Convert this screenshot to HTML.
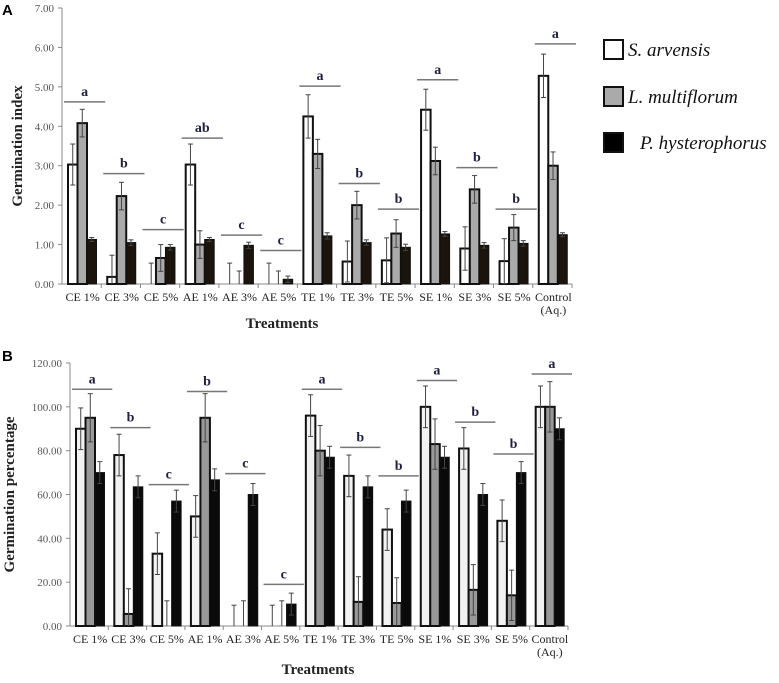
<!DOCTYPE html>
<html><head><meta charset="utf-8"><style>
body{margin:0;background:#fff;}
</style></head><body>
<svg id="svg" width="779" height="678" viewBox="0 0 779 678" font-family="Liberation Serif, serif"></svg>
<script>
const categories=["CE 1%","CE 3%","CE 5%","AE 1%","AE 3%","AE 5%","TE 1%","TE 3%","TE 5%","SE 1%","SE 3%","SE 5%","Control"];
const seriesNames=["S. arvensis","L. multiflorum","P. hysterophorus"];
// Panel A: germination index
const aSarv=[3.03,0.18,0,3.03,0,0,4.25,0.57,0.6,4.42,0.9,0.58,5.28];
const aLmul=[4.08,2.23,0.66,1.0,0,0,3.3,2.0,1.28,3.12,2.4,1.43,3.0];
const aPhys=[1.13,1.05,0.93,1.13,0.98,0.12,1.22,1.05,0.93,1.27,0.98,1.03,1.25];
const aErrS=[0.52,0.55,0.53,0.52,0.53,0.53,0.55,0.52,0.57,0.52,0.55,0.57,0.55];
const aErrL=[0.35,0.35,0.34,0.35,0.33,0.33,0.37,0.35,0.35,0.35,0.35,0.33,0.35];
const aErrP=[0.05,0.07,0.07,0.05,0.08,0.08,0.08,0.07,0.08,0.06,0.07,0.07,0.05];
const aLetters=["a","b","c","ab","c","c","a","b","b","a","b","b","a"];
const aLetterY=[4.62,2.8,1.38,3.7,1.24,0.85,5.02,2.55,1.9,5.18,2.95,1.9,6.09];
const aTicks=["0.00","1.00","2.00","3.00","4.00","5.00","6.00","7.00"];
// Panel B: germination percentage
const bSarv=[90,78,33,50,0,0,96,68.5,44,100,81,48,100];
const bLmul=[95,5.5,0,95,0,0,80,11,10.5,83,16.5,14,100];
const bPhys=[70,63.5,57,66.7,60,10,77,63.5,57,77,60,70,90];
const bErrS=[9.5,9.5,9.5,9.5,9.5,9.5,9.5,9.5,9.5,9.5,9.5,9.5,9.5];
const bErrL=[11,11.5,11.5,11,11.5,11.5,11.5,11.5,11.5,11.5,11.5,11.5,11.5];
const bErrP=[5,5,5,5,5,5,5,5,5,5,5,5,5];
const bLetters=["a","b","c","b","c","c","a","b","b","a","b","b","a"];
const bLetterY=[108,90.5,64.5,107,69.5,19,108,81.5,68.5,112,93,78.5,115];
const bTicks=["0.00","20.00","40.00","60.00","80.00","100.00","120.00"];

const svg=document.getElementById('svg');
const NS="http://www.w3.org/2000/svg";
const SERIF="'Liberation Serif', serif";
function mk(tag,attrs,parent){const e=document.createElementNS(NS,tag);for(const k in attrs)e.setAttribute(k,attrs[k]);(parent||svg).appendChild(e);return e;}
function txt(s,attrs,parent){const ff=attrs.ff||SERIF;delete attrs.ff;attrs.style='font-family:'+ff;const e=mk('text',attrs,parent);e.textContent=s;return e;}

function panel(cfg){
  const g=mk('g',{});
  
  
  const {x0,x1,y0,y1,max}=cfg;
  const slot=(x1-x0)/categories.length;
  const ys=v=>y0-(v/max)*(y0-y1);
  const ax=mk('line',{x1:x0,y1:y1,x2:x0,y2:y0,stroke:'#888','stroke-width':1},g);
  
  cfg.ticks.forEach((t,i)=>{
    const v=i*max/(cfg.ticks.length-1);
    mk('line',{x1:x0-4,y1:ys(v),x2:x0,y2:ys(v),stroke:'#888'},g);
    const tl=txt(t,{x:x0-8,y:ys(v)+4,'font-size':11,'text-anchor':'end',fill:'#555'},g);
    
  });
  const xa=mk('line',{x1:x0,y1:y0,x2:x1,y2:y0,stroke:'#888'},g);
  
  const fills=cfg.fills;
  const series=[cfg.s,cfg.l,cfg.p],errs=[cfg.es,cfg.el,cfg.ep];
  categories.forEach((c,i)=>{
    const sx=x0+i*slot;
    mk('line',{x1:sx+slot,y1:y0,x2:sx+slot,y2:y0+4,stroke:'#888'},g);
    for(let k=0;k<3;k++){
      const v=series[k][i];const bx=sx+6+k*9.5;const bw=9.5;
      if(v>0){
        const r=mk('rect',{x:bx,y:ys(v),width:bw,height:y0-ys(v),fill:fills[k],stroke:'#111','stroke-width':k==2?1:2},g);
        
        
      }
      const e=errs[k][i];const cx=bx+bw/2;
      const top=ys(v+e),bot=ys(Math.max(0,v-e));
      mk('line',{x1:cx,y1:top,x2:cx,y2:bot,stroke:'#444','stroke-width':1},g);
      mk('line',{x1:cx-2.5,y1:top,x2:cx+2.5,y2:top,stroke:'#444'},g);
      if(v-e>0) mk('line',{x1:cx-2.5,y1:bot,x2:cx+2.5,y2:bot,stroke:'#444'},g);
    }
    const ly=ys(cfg.ly[i]);
    mk('line',{x1:sx+2,y1:ly,x2:sx+slot+4,y2:ly,stroke:'#777','stroke-width':1.5},g);
    const lt=txt(cfg.letters[i],{x:sx+slot/2+3,y:ly-6,'font-size':14,'font-weight':'bold','text-anchor':'middle',fill:'#1f2040'},g);
    
    const cl=txt(c,{x:sx+slot/2+1,y:y0+17,'font-size':12,'text-anchor':'middle',fill:'#222'},g);
    
    if(c==="Control"){txt("(Aq.)",{x:sx+slot/2+1,y:y0+30,'font-size':12,'text-anchor':'middle',fill:'#222'},g);}
  });
  const xt=txt("Treatments",{x:cfg.xtx,y:cfg.xty,'font-size':15,'font-weight':'bold','text-anchor':'middle',fill:'#222'},g);
  
  const yt=txt(cfg.ytitle,{x:0,y:0,'font-size':15,'font-weight':'bold','text-anchor':'middle',fill:'#222',transform:`translate(${cfg.ytx},${(y0+y1)/2}) rotate(-90)`},g);
  
  const pl=txt(cfg.label,{x:2,y:cfg.ply,'font-size':15,'font-weight':'bold',ff:"'Liberation Sans', sans-serif",fill:'#000'},g);
  
}
panel({name:'panel-a-chart',x0:62,x1:572,y0:284,y1:8,max:7,ticks:aTicks,s:aSarv,l:aLmul,p:aPhys,es:aErrS,el:aErrL,ep:aErrP,letters:aLetters,ly:aLetterY,fills:['#fff','#aaa','#1a140c'],xtx:282,xty:328,ytitle:'Germination index',ytx:22,label:'A',ply:15});
panel({name:'panel-b-chart',x0:70,x1:568,y0:626,y1:363,max:120,ticks:bTicks,s:bSarv,l:bLmul,p:bPhys,es:bErrS,el:bErrL,ep:bErrP,letters:bLetters,ly:bLetterY,fills:['#f2f2f2','#999','#0a0a0a'],xtx:318,xty:674,ytitle:'Germination percentage',ytx:14,label:'B',ply:361});
const lg=mk('g',{});


const lf=['#fff','#aaa','#000'],lyy=[40,87,133],ltx=[628,628,640];
seriesNames.forEach((n,i)=>{
  const r=mk('rect',{x:604,y:lyy[i],width:19,height:19,fill:lf[i],stroke:'#111','stroke-width':2},lg);
  
  const t=txt(n,{x:ltx[i],y:lyy[i]+16,'font-size':19,'font-style':'italic',fill:'#111'},lg);
  
});
</script>
</body></html>
